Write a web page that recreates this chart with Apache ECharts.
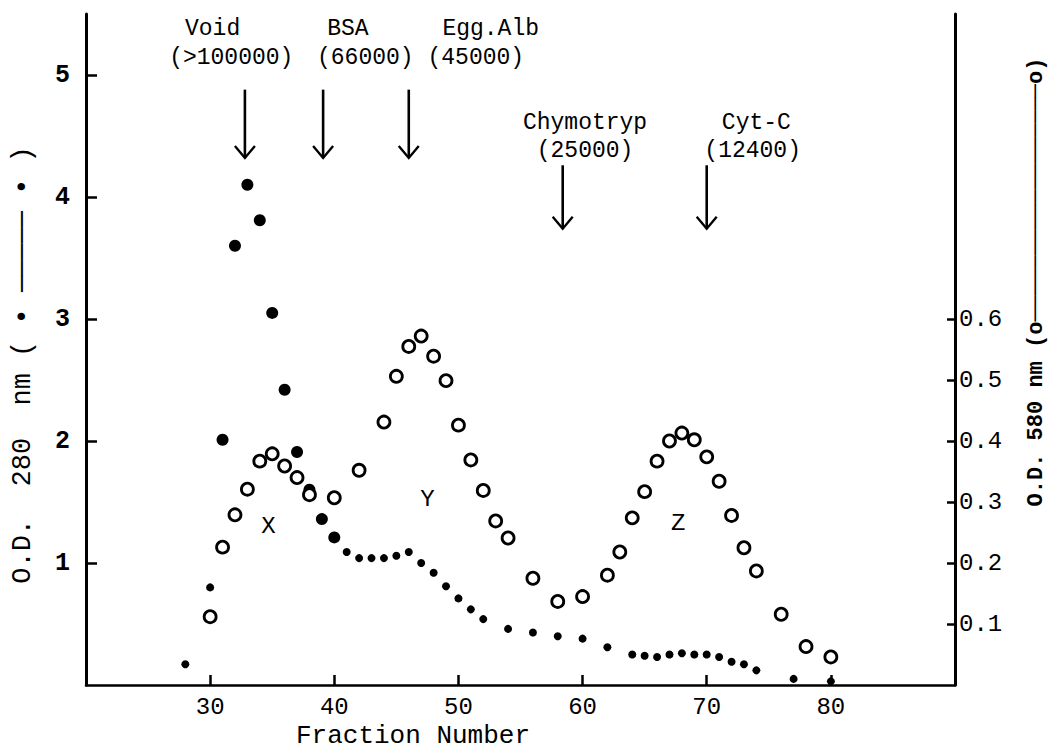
<!DOCTYPE html>
<html><head><meta charset="utf-8">
<script src="https://cdn.jsdelivr.net/npm/echarts@6/dist/echarts.min.js"></script>
<style>html,body{margin:0;padding:0;background:#fff;}#c{width:1055px;height:751px;}</style>
</head><body><div id="c"></div>
<script>
// ---- data ----
const frac280 = [28,30,31,32,33,34,35,36,37,38,39,40,41,42,43,44,45,46,47,48,49,50,51,52,54,56,58,60,62,64,65,66,67,68,69,70,71,72,73,74,77,80];
const od280 = [0.17,0.80,2.01,3.60,4.10,3.81,3.05,2.42,1.91,1.60,1.36,1.21,1.09,1.04,1.04,1.04,1.06,1.09,1.00,0.92,0.81,0.71,0.62,0.54,0.46,0.43,0.40,0.38,0.31,0.25,0.24,0.23,0.25,0.26,0.25,0.25,0.23,0.19,0.17,0.12,0.05,0.03];
const frac580 = [30,31,32,33,34,35,36,37,38,40,42,44,45,46,47,48,49,50,51,52,53,54,56,58,60,62,63,64,65,66,67,68,69,70,71,72,73,74,76,78,80];
const od580 = [0.112,0.226,0.279,0.321,0.367,0.379,0.359,0.340,0.312,0.307,0.352,0.431,0.506,0.555,0.572,0.539,0.499,0.426,0.369,0.319,0.269,0.241,0.175,0.137,0.145,0.180,0.218,0.274,0.317,0.367,0.400,0.413,0.402,0.374,0.334,0.278,0.225,0.187,0.116,0.063,0.046];
const xTicks = [30,40,50,60,70,80];
const leftTicks = [1,2,3,4,5];
const rightTicks = [0.1,0.2,0.3,0.4,0.5,0.6];

const markerName = ['Void','BSA','Egg.Alb','Chymotryp','Cyt-C'];
const markerMW = ['(>100000)','(66000)','(45000)','(25000)','(12400)'];
const markerFrac = [32.8,39.1,46.0,58.4,70.0];
const arrowTop = [4.88,4.88,4.88,4.26,4.26];
const arrowBottom = [4.32,4.32,4.32,3.74,3.74];
const nameFrac = [30.2,41.1,52.6,60.2,74.0];
const nameY = [5.38,5.38,5.38,4.61,4.61];
const mwFrac = [31.7,42.5,51.4,60.2,73.7];
const mwY = [5.14,5.14,5.14,4.38,4.38];

const peakName = ['X','Y','Z'];
const peakFrac = [34.7,47.5,67.7];
const peakY = [1.30,1.52,1.32];

// ---- chart ----
const FONT = '"Liberation Mono", "DejaVu Sans Mono", monospace';
const chart = echarts.init(document.getElementById('c'), null, {renderer:'svg'});

const texts = [];
markerName.forEach((t,i)=>texts.push({t, x:nameFrac[i], y:nameY[i], s:23}));
markerMW.forEach((t,i)=>texts.push({t, x:mwFrac[i], y:mwY[i], s:23}));
peakName.forEach((t,i)=>texts.push({t, x:peakFrac[i], y:peakY[i], s:24}));

const dash = n => '\u2500'.repeat(n);

chart.setOption({
  animation:false,
  backgroundColor:'#fff',
  grid:{left:86, right:100, top:14, bottom:66},
  xAxis:{
    type:'value', min:20, max:90, interval:10,
    splitLine:{show:false},
    axisLine:{lineStyle:{color:'#000', width:2.5}},
    axisTick:{inside:true, length:10, lineStyle:{color:'#000', width:2.5}, customValues:xTicks},
    axisLabel:{color:'#000', fontFamily:FONT, fontSize:24, margin:10, customValues:xTicks}
  },
  yAxis:[
    {type:'value', min:0, max:5.5, position:'left',
     splitLine:{show:false},
     axisLine:{show:true, lineStyle:{color:'#000', width:3}},
     axisTick:{show:true, inside:true, length:11, lineStyle:{color:'#000', width:2.5}, customValues:leftTicks},
     axisLabel:{color:'#000', fontFamily:FONT, fontSize:25, fontWeight:'bold', margin:16, customValues:leftTicks}},
    {type:'value', min:0, max:1.1, position:'right',
     splitLine:{show:false},
     axisLine:{show:true, lineStyle:{color:'#000', width:3}},
     axisTick:{show:true, inside:true, length:8, lineStyle:{color:'#000', width:2.5}, customValues:rightTicks},
     axisLabel:{color:'#000', fontFamily:FONT, fontSize:24, margin:4, customValues:rightTicks,
       formatter:v=>v.toFixed(1)}}
  ],
  series:[
    {type:'scatter', yAxisIndex:0, name:'OD280',
     data:frac280.map((f,i)=>[f, od280[i]]),
     symbol:'circle',
     symbolSize:v=> v[1] >= 1.2 ? 12 : 8,
     itemStyle:{color:'#000', opacity:1}},
    {type:'scatter', yAxisIndex:1, name:'OD580',
     data:frac580.map((f,i)=>[f, od580[i]]),
     symbol:'circle', symbolSize:12,
     itemStyle:{color:'#fff', borderColor:'#000', borderWidth:2.8, opacity:1}},
    {type:'custom', yAxisIndex:0, name:'arrows',
     data:markerFrac.map((f,i)=>[f, arrowTop[i], arrowBottom[i]]),
     renderItem:(params, api)=>{
       const a = api.coord([api.value(0), api.value(1)]);
       const b = api.coord([api.value(0), api.value(2)]);
       return {type:'group', children:[
         {type:'line', shape:{x1:a[0], y1:a[1], x2:b[0], y2:b[1]}, style:{stroke:'#000', lineWidth:2.6}},
         {type:'polyline', shape:{points:[[b[0]-10,b[1]-12],[b[0],b[1]],[b[0]+10,b[1]-12]]},
          style:{stroke:'#000', lineWidth:2.4, fill:null}}
       ]};
     }},
    {type:'custom', yAxisIndex:0, name:'labels',
     data:texts.map((d,i)=>[d.x, d.y, i]),
     renderItem:(params, api)=>{
       const p = api.coord([api.value(0), api.value(1)]);
       const d = texts[api.value(2)];
       return {type:'text', x:p[0], y:p[1],
         style:{text:d.t, fill:'#000', font:d.s+'px '+FONT, align:'center', verticalAlign:'middle'}};
     }}
  ],
  graphic:[
    {type:'text', x:413, y:736, style:{text:'Fraction Number', fill:'#000', font:'26px '+FONT, align:'center', verticalAlign:'middle'}},
    {type:'text', x:23, y:365, rotation:Math.PI/2, style:{text:'O.D.  280  nm ( \u2022 '+dash(5)+' \u2022 )', fill:'#000', font:'27px '+FONT, align:'center', verticalAlign:'middle'}},
    {type:'text', x:1036, y:282, rotation:Math.PI/2, style:{text:'O.D. 580 nm (o'+dash(18)+'o)', fill:'#000', font:'bold 22px '+FONT, align:'center', verticalAlign:'middle'}}
  ]
});
</script></body></html>
